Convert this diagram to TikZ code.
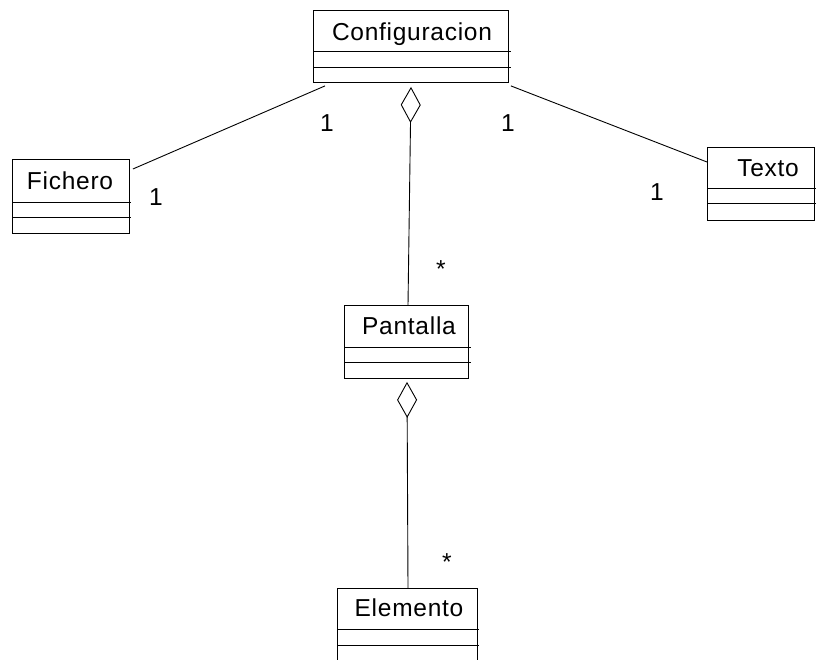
\documentclass[tikz,border=0pt]{standalone}
\usepackage{fontspec}
\newfontfamily\classfont{Liberation Sans}[LetterSpace=3]
\usetikzlibrary{arrows.meta}

\tikzset{
  classbox/.style={draw, line width=0.9pt, inner sep=0pt, anchor=north west},
  sepline/.style={line width=0.9pt},
  classname/.style={font=\classfont\fontsize{24.5pt}{29pt}\selectfont, anchor=base, inner sep=0pt},
  mult/.style={font=\classfont\fontsize{24.5pt}{29pt}\selectfont, anchor=base, inner sep=0pt},
  assoc/.style={line width=0.9pt},
  aggreg/.style={line width=0.9pt, {Diamond[open, length=36pt, width=20pt, line width=0.9pt]}-},
}

\begin{document}
\begin{tikzpicture}[x=1pt, y=-1pt]
  \useasboundingbox (0,0) rectangle (816,659);

  % Configuracion
  \node[classbox, minimum width=195pt, minimum height=72pt] (conf) at (313,10) {};
  \draw[sepline] ([yshift=-41pt]conf.north west) -- ++(198pt,0pt);
  \draw[sepline] ([yshift=-57pt]conf.north west) -- ++(198pt,0pt);
  \node[classname] (confname) at (412,40) {Configuracion};

  % Fichero
  \node[classbox, minimum width=117pt, minimum height=74pt] (fich) at (12,159) {};
  \draw[sepline] ([yshift=-43pt]fich.north west) -- ++(119pt,0pt);
  \draw[sepline] ([yshift=-58pt]fich.north west) -- ++(119pt,0pt);
  \node[classname] (fichname) at (70,189) {Fichero};

  % Texto
  \node[classbox, minimum width=107pt, minimum height=73pt] (texto) at (707,147) {};
  \draw[sepline] ([yshift=-41pt]texto.north west) -- ++(109pt,0pt);
  \draw[sepline] ([yshift=-56pt]texto.north west) -- ++(109pt,0pt);
  \node[classname] (textoname) at (768,176) {Texto};

  % Pantalla
  \node[classbox, minimum width=124pt, minimum height=73pt] (pant) at (344,305) {};
  \draw[sepline] ([yshift=-42pt]pant.north west) -- ++(127pt,0pt);
  \draw[sepline] ([yshift=-57pt]pant.north west) -- ++(127pt,0pt);
  \node[classname] (pantname) at (409,334) {Pantalla};

  % Elemento
  \node[classbox, minimum width=140pt, minimum height=73pt] (elem) at (337,588) {};
  \draw[sepline] ([yshift=-41pt]elem.north west) -- ++(142pt,0pt);
  \draw[sepline] ([yshift=-57pt]elem.north west) -- ++(142pt,0pt);
  \node[classname] (elemname) at (409,616) {Elemento};

  % Associations
  \draw[assoc] ([shift={(3pt,-10pt)}]fich.north east) -- ([shift={(12pt,-3pt)}]conf.south west);
  \draw[assoc] ([shift={(0pt,-15pt)}]texto.north west) -- ([shift={(2pt,-3pt)}]conf.south east);

  % Aggregations
  \draw[aggreg] ([shift={(98pt,-4pt)}]conf.south west) -- ([xshift=64pt]pant.north west);
  \draw[aggreg] ([shift={(63pt,-3pt)}]pant.south west) -- ([xshift=71pt]elem.north west);

  % Multiplicities
  \node[mult] (m1) at (327,131) {1};
  \node[mult] (m2) at (156,205) {1};
  \node[mult] (m3) at (508,131) {1};
  \node[mult] (m4) at (657,200) {1};
  \node[mult] (m5) at (441,277) {*};
  \node[mult] (m6) at (447,570) {*};
\end{tikzpicture}
\end{document}
